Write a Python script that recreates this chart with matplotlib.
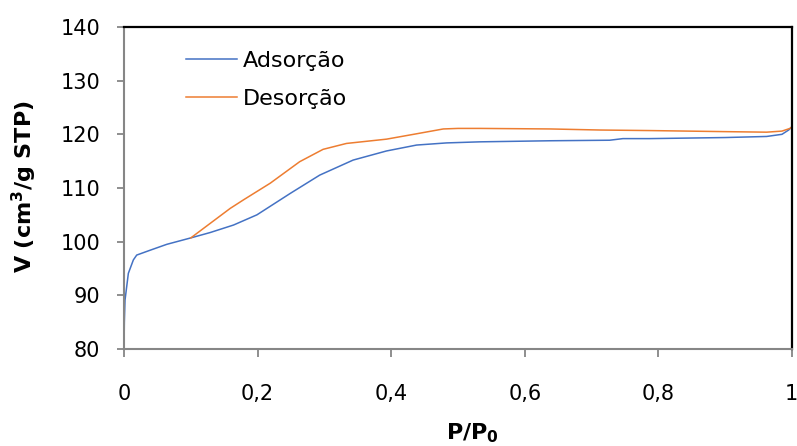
import numpy as np
import matplotlib.pyplot as plt
import matplotlib.transforms as mtransforms
from matplotlib.ticker import FuncFormatter

# isoterma - valores
x_ads = [0.0, 0.0005, 0.0015, 0.0065, 0.014, 0.019, 0.039, 0.064, 0.1, 0.129, 0.164,
         0.199, 0.249, 0.293, 0.343, 0.393, 0.438, 0.483, 0.533, 0.638, 0.727,
         0.747, 0.787, 0.9, 0.962, 0.985, 0.995, 0.999]
y_ads = [80.0, 85.0, 89.1, 94.1, 96.6, 97.5, 98.4, 99.5, 100.7, 101.7, 103.1,
         105.0, 109.0, 112.4, 115.2, 116.9, 118.0, 118.4, 118.6, 118.8, 118.9,
         119.2, 119.2, 119.4, 119.6, 120.0, 120.8, 121.3]

x_des = [0.999, 0.997, 0.985, 0.962, 0.9, 0.787, 0.713, 0.638, 0.533, 0.5, 0.478,
         0.438, 0.393, 0.333, 0.298, 0.263, 0.219, 0.179, 0.159, 0.1]
y_des = [121.3, 121.1, 120.6, 120.4, 120.5, 120.7, 120.8, 121.0, 121.1, 121.1, 121.0,
         120.1, 119.1, 118.3, 117.2, 114.9, 110.9, 107.8, 106.2, 100.7]

fig = plt.figure(figsize=(7.97, 4.46), dpi=100)
ax = fig.add_axes([0.1556, 0.2175, 0.8381, 0.722])

ax.plot(x_ads, y_ads, color='#4472C4', lw=1.1, label='Adsorção')
ax.plot(x_des, y_des, color='#ED7D31', lw=1.1, label='Desorção')

ax.set_xlim(0, 1)
ax.set_ylim(80, 140)
ax.set_xticks(np.arange(0, 1.01, 0.2))
ax.set_yticks(np.arange(80, 141, 10))
ax.xaxis.set_major_formatter(FuncFormatter(lambda v, p: ('%g' % round(v, 1)).replace('.', ',')))

for s in ['left', 'bottom']:
    ax.spines[s].set_color('#868686')
    ax.spines[s].set_linewidth(1.5)
for s in ['top', 'right']:
    ax.spines[s].set_color('black')
    ax.spines[s].set_linewidth(1.6)
ax.tick_params(axis='both', direction='out', color='#868686', width=1.3,
               labelsize=15)
ax.tick_params(axis='y', length=5, pad=12)
ax.tick_params(axis='x', length=6, pad=19)

# ultimo rotulo "1" encostado na borda: alinhar para nao cortar
last = ax.get_xticklabels()[-1]
last.set_horizontalalignment('right')
last.set_transform(last.get_transform() + mtransforms.ScaledTranslation(4 / 72, 0, fig.dpi_scale_trans))

ax.set_xlabel('P/P$_\\mathbf{0}$', fontsize=16, fontweight='bold', va='top')
ax.xaxis.set_label_coords(0.521, -0.226)
ax.set_ylabel('V (cm$^\\mathbf{3}$/g STP)', fontsize=16, fontweight='bold')
ax.yaxis.set_label_coords(-0.128, 0.505)

ax.legend(loc='upper left', bbox_to_anchor=(186 / 797, 1 - 51 / 446),
          bbox_transform=fig.transFigure, frameon=False, fontsize=16,
          handlelength=2.3, handletextpad=0.27, labelspacing=0.82,
          borderpad=0, borderaxespad=0)

plt.savefig('out.png', dpi=100)
